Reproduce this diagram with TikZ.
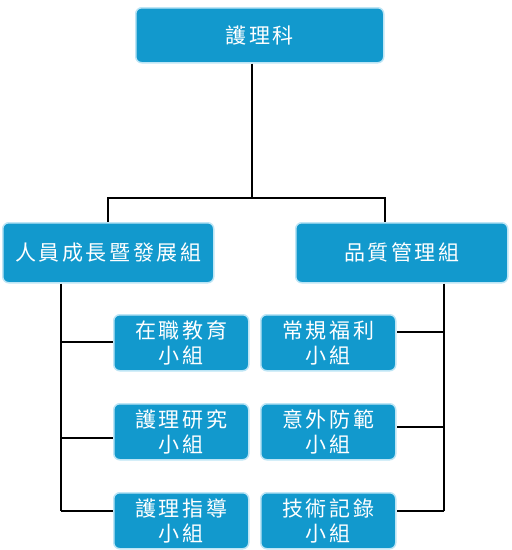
\documentclass[tikz,border=0pt]{standalone}
\usepackage{fontspec}
\newfontfamily\cjk[LetterSpace=12]{Noto Sans CJK TC}
\definecolor{boxblue}{HTML}{1299CD}
\definecolor{glow}{HTML}{BDE5F5}
\begin{document}
\begin{tikzpicture}[x=1pt,y=-1pt,
  box/.style={fill=boxblue, draw=glow, line width=1.5pt, rounded corners=6pt,
    text=white, font=\cjk\fontsize{21}{25}\selectfont, align=center,
    inner sep=0pt, anchor=north west},
  conn/.style={draw=black, line width=1.1pt}]
\useasboundingbox (0,0) rectangle (512,550);
% boxes
\node[box, minimum width=248pt, minimum height=55pt] (top) at (135,7) {護理科};
\node[box, minimum width=211pt, minimum height=60pt] (L) at (2,222) {人員成長暨發展組};
\node[box, minimum width=212pt, minimum height=60pt] (R) at (295,222) {品質管理組};
\node[box, minimum width=135pt, minimum height=56pt] (L1) at (113,314) {在職教育\\小組};
\node[box, minimum width=135pt, minimum height=56pt] (L2) at (113,403) {護理研究\\小組};
\node[box, minimum width=135pt, minimum height=56pt] (L3) at (113,492) {護理指導\\小組};
\node[box, minimum width=135pt, minimum height=56pt] (R1) at (260,314) {常規福利\\小組};
\node[box, minimum width=135pt, minimum height=56pt] (R2) at (260,403) {意外防範\\小組};
\node[box, minimum width=135pt, minimum height=56pt] (R3) at (260,492) {技術記錄\\小組};
% junction coordinates
\coordinate (j) at (252,198);
\coordinate (lj) at (108,198);
\coordinate (rj) at (385,198);
\coordinate (ls) at (61,282);
\coordinate (rs) at (444,282);
% connectors
\draw[conn] (top.south -| j) -- (j);
\draw[conn] (L.north -| lj) |- (rj) -- (R.north -| rj);
\draw[conn] (L.south -| ls) -- (61,511);
\draw[conn] (61,342) -- (L1.west |- 0,342);
\draw[conn] (61,438) -- (L2.west |- 0,438);
\draw[conn] (61,511) -- (L3.west |- 0,511);
\draw[conn] (R.south -| rs) -- (444,511);
\draw[conn] (444,332) -- (R1.east |- 0,332);
\draw[conn] (444,427) -- (R2.east |- 0,427);
\draw[conn] (444,511) -- (R3.east |- 0,511);
\end{tikzpicture}
\end{document}
